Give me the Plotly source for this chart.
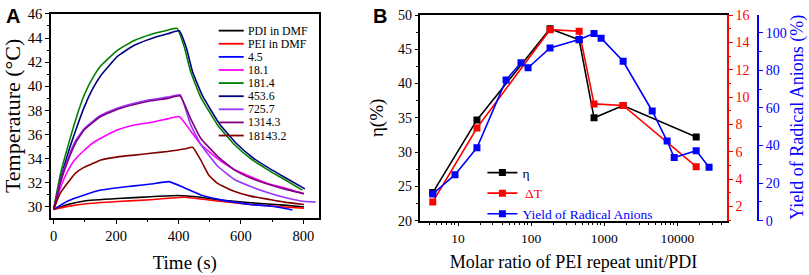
import plotly.graph_objects as go

# ---------------- Panel A data (Temperature vs time) ----------------
t_pdi = [0, 45, 98, 205, 311, 397, 471, 525, 631, 738, 802]
pdi_dmf = [29.8, 30.2, 30.5, 30.7, 30.85, 30.95, 30.8, 30.6, 30.35, 30.15, 30.0]

t_pei = [0, 45, 98, 205, 311, 418, 525, 631, 738, 802]
pei_dmf = [29.8, 30.05, 30.25, 30.45, 30.6, 30.8, 30.5, 30.2, 30.0, 29.9]

t_45 = [0, 45, 98, 151, 205, 258, 311, 370, 418, 471, 525, 578, 631, 685, 738, 765]
v_45 = [29.8, 30.5, 31.0, 31.4, 31.6, 31.75, 31.9, 32.1, 31.6, 31.0, 30.65, 30.4, 30.2, 30.1, 29.9, 29.75]

t_181 = [0, 20, 45, 70, 98, 125, 151, 205, 258, 311, 365, 402, 439, 471, 525, 578, 631, 685, 738, 802]
v_181 = [29.8, 31.5, 33.0, 34.0, 34.7, 35.3, 35.7, 36.4, 36.8, 37.0, 37.3, 37.5, 36.3, 35.2, 34.0, 33.1, 32.5, 31.95, 31.6, 31.1]

t_1814 = [0, 23, 45, 71, 98, 125, 151, 205, 258, 311, 365, 395, 418, 439, 471, 525, 578, 631, 685, 738, 797]
v_1814 = [29.9, 32.9, 35.0, 37.3, 39.3, 40.7, 41.7, 43.0, 43.8, 44.3, 44.65, 44.8, 43.3, 41.2, 39.1, 36.8, 35.2, 34.0, 33.1, 32.3, 31.4]

t_4536 = [0, 23, 45, 71, 98, 125, 151, 205, 258, 311, 365, 402, 425, 445, 477, 531, 584, 637, 691, 744, 805]
v_4536 = [29.8, 32.4, 34.4, 36.4, 38.3, 39.8, 40.9, 42.5, 43.4, 43.95, 44.35, 44.6, 43.2, 41.2, 39.2, 36.9, 35.3, 34.1, 33.2, 32.4, 31.5]

t_7257 = [0, 20, 45, 70, 98, 125, 151, 205, 258, 311, 365, 405, 439, 471, 525, 578, 631, 685, 738, 791, 839]
v_7257 = [29.8, 32.0, 34.0, 35.5, 36.5, 37.1, 37.6, 38.2, 38.6, 38.9, 39.1, 39.3, 36.8, 35.2, 33.4, 32.3, 31.7, 31.2, 30.8, 30.5, 30.4]

t_13143 = [0, 20, 45, 70, 98, 125, 151, 205, 258, 311, 365, 405, 439, 471, 525, 578, 631, 685, 738, 802]
v_13143 = [29.8, 31.9, 33.8, 35.3, 36.4, 37.0, 37.5, 38.1, 38.5, 38.8, 39.0, 39.2, 37.3, 35.7, 34.2, 33.1, 32.4, 31.9, 31.5, 31.1]

t_181432 = [0, 20, 45, 70, 98, 125, 151, 205, 258, 311, 365, 418, 445, 471, 498, 525, 578, 631, 685, 738, 802]
v_181432 = [29.8, 31.1, 32.0, 32.8, 33.3, 33.6, 33.9, 34.15, 34.3, 34.45, 34.6, 34.8, 34.95, 33.9, 32.6, 31.96, 31.3, 30.9, 30.65, 30.4, 30.2]

names_A = ["PDI in DMF", "PEI in DMF", "4.5", "18.1", "181.4", "453.6", "725.7", "1314.3", "18143.2"]
colors_A = ["#000000", "#ff0000", "#0000ff", "#ff00ff", "#008000", "#000080", "#9933ff", "#800080", "#800000"]
series_A = [
    (t_pdi, pdi_dmf), (t_pei, pei_dmf), (t_45, v_45), (t_181, v_181),
    (t_1814, v_1814), (t_4536, v_4536), (t_7257, v_7257), (t_13143, v_13143), (t_181432, v_181432),
]

# ---------------- Panel B data ----------------
ratio = [4.5, 18.1, 181.4, 453.6, 725.7, 1814.3, 18143.2]
eta = [24.1, 34.7, 48.0, 46.4, 35.0, 36.8, 32.2]
delta_t = [2.33, 7.74, 14.93, 14.81, 9.5, 9.39, 4.91]

ratio_yield = [4.5, 9.07, 18.1, 45.36, 72.57, 90.7, 181.4, 453.6, 725.7, 907.2, 1814.3, 4535.8, 7257, 9071.6, 18143.2, 27214.8]
yield_ra = [14.2, 24.5, 38.8, 74.9, 84.1, 81.4, 92.0, 96.5, 99.7, 97.2, 84.9, 58.4, 42.4, 33.6, 37.3, 28.5]

SERIF = "Liberation Serif, Times New Roman, serif"
W, H = 809, 275

fig = go.Figure()

for (tx, ty), nm, col in zip(series_A, names_A, colors_A):
    fig.add_trace(go.Scatter(x=tx, y=ty, mode="lines", line=dict(color=col, width=1.6, shape="spline", smoothing=0.4),
                             name=nm, showlegend=False, xaxis="x", yaxis="y"))

fig.add_trace(go.Scatter(x=ratio, y=eta, mode="lines+markers", name="η",
                         line=dict(color="#000000", width=1.6), marker=dict(symbol="square", size=7, color="#000000"),
                         xaxis="x2", yaxis="y2"))
fig.add_trace(go.Scatter(x=ratio, y=delta_t, mode="lines+markers", name='<span style="color:#ff0000"> ΔT</span>',
                         line=dict(color="#ff0000", width=1.6), marker=dict(symbol="square", size=7, color="#ff0000"),
                         xaxis="x2", yaxis="y3"))
fig.add_trace(go.Scatter(x=ratio_yield, y=yield_ra, mode="lines+markers",
                         name='<span style="color:#0000ff">Yield of Radical Anions</span>',
                         line=dict(color="#0000ff", width=1.6), marker=dict(symbol="square", size=7, color="#0000ff"),
                         xaxis="x2", yaxis="y4"))


def px(x):
    return min(1.0, max(0.0, x / W))


def py(y):
    return min(1.0, max(0.0, 1 - y / H))


axis_common = dict(showgrid=False, zeroline=False, linecolor="black", linewidth=1.5, ticks="outside",
                   tickcolor="black", tickwidth=1.2, ticklen=4, tickfont=dict(family=SERIF, size=14.5, color="black"))
mirror_ticks = dict(showgrid=False, zeroline=False, showline=False, showticklabels=False, ticks="inside",
                    tickcolor="black", tickwidth=1.2, ticklen=4)

A_RANGE_X = [-9, 849]
A_RANGE_Y = [29.1, 46]
B_RANGE_X = [0.485, 4.675]

fig.update_layout(
    width=W, height=H, margin=dict(l=0, r=0, t=0, b=0),
    paper_bgcolor="white", plot_bgcolor="white",
    font=dict(family=SERIF, color="black"),
    hovermode=False,
    xaxis=dict(domain=[px(50), px(318)], range=A_RANGE_X, anchor="y", dtick=200, mirror=True,
               minor=dict(ticks="outside", dtick=100, ticklen=2.5, tickcolor="black"),
               title=dict(text="Time (s)", font=dict(size=19, family=SERIF), standoff=13), **axis_common),
    yaxis=dict(domain=[py(223), py(7.3)], range=A_RANGE_Y, anchor="x", dtick=2, mirror=True,
               minor=dict(ticks="outside", dtick=1, ticklen=2.5, tickcolor="black"),
               title=dict(text="Temperature (°C)", font=dict(size=22, family=SERIF), standoff=9), **axis_common),
    xaxis3=dict(overlaying="x", side="top", anchor="y", range=A_RANGE_X, dtick=200,
                minor=dict(ticks="inside", dtick=100, ticklen=2.5, tickcolor="black"), **mirror_ticks),
    yaxis5=dict(overlaying="y", side="right", anchor="x", range=A_RANGE_Y, dtick=2,
                minor=dict(ticks="inside", dtick=1, ticklen=3, tickcolor="black"), **mirror_ticks),
    xaxis2=dict(domain=[px(420), px(726.5)], type="log", range=B_RANGE_X, anchor="y2", mirror=True,
                tickvals=[10, 100, 1000, 10000], ticktext=["10", "100", "1000", "10000"],
                minor=dict(ticks="outside", dtick="D1", ticklen=2.5, tickcolor="black"),
                title=dict(text="Molar ratio of PEI repeat unit/PDI", font=dict(size=18, family=SERIF), standoff=11),
                **{**axis_common, "tickfont": dict(family=SERIF, size=13.5, color="black")}),
    xaxis4=dict(overlaying="x2", side="top", anchor="y2", type="log", range=B_RANGE_X,
                tickvals=[10, 100, 1000, 10000],
                minor=dict(ticks="inside", dtick="D1", ticklen=2.5, tickcolor="black"), **mirror_ticks),
    yaxis2=dict(domain=[py(226), py(8.5)], range=[20, 50], anchor="x2", dtick=5,
                minor=dict(ticks="outside", dtick=2.5, ticklen=2.5, tickcolor="black"),
                title=dict(text="η(%)", font=dict(size=19, family=SERIF), standoff=9),
                **{**axis_common, "tickfont": dict(family=SERIF, size=14, color="black")}),
    yaxis3=dict(range=[0.96, 16], overlaying="y2", side="right", anchor="x2", dtick=2,
                showgrid=False, zeroline=False, linecolor="#ff0000", linewidth=2, ticks="outside",
                tickcolor="#ff0000", tickwidth=1.2, ticklen=4,
                minor=dict(ticks="outside", dtick=1, ticklen=2.5, tickcolor="#ff0000"),
                tickfont=dict(family=SERIF, size=14, color="#ff0000")),
    yaxis4=dict(range=[0, 109.5], overlaying="y2", side="right", anchor="free", position=px(758), dtick=20,
                showgrid=False, zeroline=False, linecolor="#0000ff", linewidth=2, ticks="outside",
                tickcolor="#0000ff", tickwidth=1.2, ticklen=4,
                minor=dict(ticks="outside", dtick=10, ticklen=2.5, tickcolor="#0000ff"),
                tickfont=dict(family=SERIF, size=14, color="#0000ff")),
    legend=dict(x=px(482), y=py(159), xanchor="left", yanchor="top", bgcolor="rgba(0,0,0,0)",
                font=dict(family=SERIF, size=13.5, color="black"), tracegroupgap=0),
)

# Manual compact legend for panel A
shapes = []
annotations = []
for i, (nm, col) in enumerate(zip(names_A, colors_A)):
    yy = py(25 + 13.87 * i)
    shapes.append(dict(type="line", xref="paper", yref="paper", x0=px(218), x1=px(243), y0=yy, y1=yy,
                       line=dict(color=col, width=1.8)))
    annotations.append(dict(text=nm, xref="paper", yref="paper", x=px(245), y=yy, xanchor="left", yanchor="middle",
                            showarrow=False, font=dict(family=SERIF, size=11.8, color="black")))

annotations.append(dict(text="Yield of Radical Anions (%)", xref="paper", yref="paper", x=px(798), y=py(117),
                        xanchor="center", yanchor="middle", textangle=-90, showarrow=False, borderpad=0,
                        font=dict(family=SERIF, size=18, color="#0000ff")))
annotations.append(dict(text="<b>A</b>", xref="paper", yref="paper", x=px(12), y=py(10), xanchor="center",
                        yanchor="middle", showarrow=False, font=dict(family="Liberation Sans, Arial, sans-serif", size=20, color="black")))
annotations.append(dict(text="<b>B</b>", xref="paper", yref="paper", x=px(379), y=py(10), xanchor="center",
                        yanchor="middle", showarrow=False, font=dict(family="Liberation Sans, Arial, sans-serif", size=20, color="black")))

fig.update_layout(shapes=shapes, annotations=annotations)

# remove the browser's default 8 px body margin so the figure fills the window; hide the mode bar
fig.write_html("out.html", config={"displayModeBar": False},
               post_script="document.body.style.margin='0';document.body.style.overflow='hidden';")
